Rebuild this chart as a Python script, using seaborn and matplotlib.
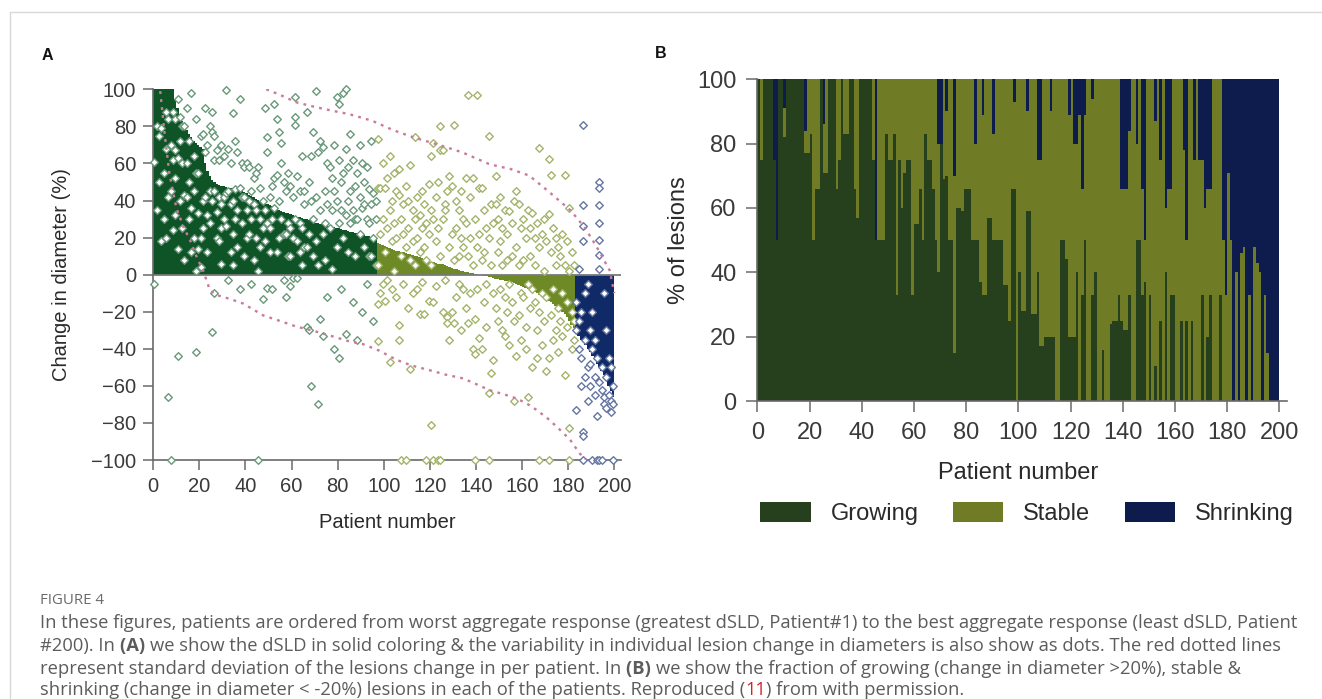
import numpy as np
import pandas as pd
import matplotlib
matplotlib.use("Agg")
import matplotlib.pyplot as plt
import seaborn as sns
from matplotlib.patches import Patch
from matplotlib.lines import Line2D

# ---------------------------------------------------------------- data
patients = list(range(1, 201))

# (A) aggregate change in sum of lesion diameters (dSLD, %) per patient
dsld = [
    100, 100, 100, 100, 100, 100, 100, 100, 100, 95,
    90, 86, 83, 80, 78, 76, 74, 72, 71, 70,
    69, 68, 60, 56, 53, 51, 50, 49, 48.5, 48,
    48, 47.5, 47, 47, 46.5, 46, 46, 45.5, 45, 44.5,
    44, 43, 42.5, 42, 41, 40.5, 40, 39, 38.5, 38,
    37.5, 37, 36, 35.5, 35, 34.5, 34, 33.5, 33, 32.5,
    32, 31.5, 31, 31, 30.5, 30, 30, 29.5, 29, 28.5,
    28, 28, 27.5, 27, 27, 26.5, 26, 26, 25.5, 25,
    25, 24.5, 24, 24, 23.5, 23, 23, 22.5, 22.5, 22,
    22, 21.5, 21, 21, 20.5, 20.5, 20, 17, 16.5, 16,
    15.5, 15, 14.5, 14, 13.5, 13, 12.5, 12, 12, 11.5,
    11, 11, 10.5, 10, 10, 9.5, 9, 8.5, 8, 7.5,
    7, 7, 6.5, 6, 6, 5.5, 5, 4.5, 4, 3.5,
    3, 3, 2.5, 2, 2, 1.5, 1.5, 1, 1, 0.5,
    0.5, 0, -0.3, -0.6, -0.9, -1.2, -1.5, -1.8, -2.1, -2.4,
    -2.7, -3, -3.3, -3.6, -3.9, -4.2, -4.6, -5, -5.5, -6,
    -6.5, -7, -7.5, -8, -9, -9.5, -10, -11, -11.5, -12,
    -13, -14, -15, -16, -17, -18, -19, -20, -21, -23,
    -25, -27, -29, -31, -33, -35, -36, -38, -40, -42,
    -44, -46, -48, -50, -52, -54, -57, -60, -63, -66,
]

# (B) fraction of lesions per patient (%)
growing_pct = [
    100, 75, 100, 100, 100, 100, 75, 50, 100, 100,
    82, 100, 100, 100, 100, 100, 100, 100, 77, 77,
    83, 50, 66, 66, 100, 71, 71, 100, 100, 100,
    66, 75, 100, 83, 83, 100, 100, 66, 57, 100,
    100, 100, 100, 100, 75, 50, 50, 50, 50, 83,
    75, 75, 83, 33, 75, 60, 71, 75, 75, 33,
    55, 55, 66, 50, 83, 75, 75, 66, 50, 40,
    80, 69, 70, 50, 50, 15, 60, 60, 59, 66,
    66, 66, 50, 50, 50, 37, 33, 33, 57, 57,
    50, 50, 50, 50, 36, 36, 25, 66, 66, 0,
    40, 28, 28, 59, 59, 27, 27, 40, 17, 17,
    20, 20, 20, 20, 0, 0, 50, 50, 44, 20,
    20, 20, 40, 0, 33, 50, 0, 0, 33, 40,
    0, 0, 16, 0, 0, 24, 25, 25, 33, 25,
    22, 22, 33, 0, 0, 50, 50, 33, 37, 0,
    33, 0, 11, 0, 25, 0, 40, 0, 33, 33,
    0, 0, 25, 0, 25, 0, 25, 0, 0, 0,
    33, 0, 20, 33, 0, 0, 0, 33, 0, 0,
    0, 0, 0, 0, 0, 0, 0, 0, 0, 0,
    0, 0, 0, 0, 0, 0, 0, 0, 0, 0,
]
stable_pct = [
    0, 25, 0, 0, 0, 0, 0, 0, 0, 0,
    9, 0, 0, 0, 0, 0, 0, 0, 7, 23,
    17, 50, 34, 34, 0, 15, 29, 0, 0, 0,
    34, 25, 0, 17, 17, 0, 0, 34, 43, 0,
    0, 0, 0, 0, 25, 0, 50, 50, 50, 17,
    25, 25, 17, 67, 25, 40, 29, 25, 25, 67,
    45, 45, 34, 50, 17, 25, 25, 34, 50, 40,
    0, 31, 20, 50, 50, 55, 40, 40, 41, 34,
    34, 34, 50, 30, 50, 63, 56, 67, 43, 43,
    33, 50, 50, 50, 64, 64, 75, 34, 27, 100,
    60, 72, 72, 31, 41, 73, 73, 35, 58, 83,
    80, 80, 70, 80, 100, 100, 50, 50, 56, 69,
    80, 60, 40, 89, 33, 39, 100, 100, 61, 60,
    100, 100, 84, 100, 100, 76, 75, 75, 67, 41,
    44, 44, 51, 100, 100, 30, 50, 33, 13, 100,
    67, 100, 76, 100, 50, 100, 20, 66, 33, 67,
    100, 100, 75, 78, 25, 100, 75, 75, 100, 75,
    42, 60, 46, 33, 100, 100, 100, 67, 50, 33,
    71, 50, 0, 40, 0, 46, 48, 0, 33, 0,
    48, 43, 40, 0, 33, 15, 0, 0, 0, 0,
]
shrinking_pct = [
    0, 0, 0, 0, 0, 0, 25, 50, 0, 0,
    9, 0, 0, 0, 0, 0, 0, 0, 16, 0,
    0, 0, 0, 0, 0, 14, 0, 0, 0, 0,
    0, 0, 0, 0, 0, 0, 0, 0, 0, 0,
    0, 0, 0, 0, 0, 50, 0, 0, 0, 0,
    0, 0, 0, 0, 0, 0, 0, 0, 0, 0,
    0, 0, 0, 0, 0, 0, 0, 0, 0, 20,
    20, 0, 10, 0, 0, 30, 0, 0, 0, 0,
    0, 0, 0, 20, 0, 0, 11, 0, 0, 0,
    17, 0, 0, 0, 0, 0, 0, 0, 7, 0,
    0, 0, 0, 10, 0, 0, 0, 25, 25, 0,
    0, 0, 10, 0, 0, 0, 0, 0, 0, 11,
    0, 20, 20, 11, 34, 11, 0, 0, 6, 0,
    0, 0, 0, 0, 0, 0, 0, 0, 0, 34,
    34, 34, 16, 0, 0, 20, 0, 34, 50, 0,
    0, 0, 13, 0, 25, 0, 40, 34, 34, 0,
    0, 0, 0, 22, 50, 0, 0, 25, 0, 25,
    25, 40, 34, 34, 0, 0, 0, 0, 50, 67,
    29, 50, 100, 60, 100, 54, 52, 100, 67, 100,
    52, 57, 60, 100, 67, 85, 100, 100, 100, 100,
]

# (A) individual lesion changes in diameter (patient, change %)
lesions = [
    (1, 61), (1, -5), (2, 80), (2, 35), (3, 75), (3, 50), (4, 79), (4, 18), (5, 55), (5, 30),
    (6, 68), (6, 20), (6, 88), (7, 84), (7, -66), (7, 42), (8, -100), (8, 45), (8, 70), (9, 88),
    (9, 24), (9, 62), (10, 84), (10, 67), (10, 52), (10, 32), (11, 63), (11, 14), (11, -44), (11, 95),
    (12, 72), (12, 40), (12, 85), (13, 60), (13, 25), (13, 80), (14, 43), (14, 80), (14, 8), (15, 42),
    (15, 90), (15, 60), (16, 72), (16, 30), (16, 50), (17, 98), (17, 36), (17, 12), (18, 64), (18, 20),
    (18, 45), (19, 84), (19, -42), (19, 2), (19, 55), (20, 14), (20, 55), (20, 33), (21, 20), (21, 4),
    (21, 75), (22, 76), (22, 40), (22, 25), (23, 66), (23, 42), (23, 90), (24, 32), (24, 70), (24, 12),
    (25, 80), (25, 28), (25, 45), (26, 88), (26, 77), (26, -31), (26, 40), (27, 75), (27, 45), (27, -10),
    (27, 62), (28, 67), (28, 34), (28, 20), (29, 62), (29, 18), (29, 42), (30, 70), (30, 38), (30, 6),
    (30, 25), (31, 64), (31, 42), (31, 30), (32, 99.7), (32, 26), (32, 44), (33, 68), (33, 45), (33, -3),
    (34, 60), (34, 12), (34, 38), (35, 87), (35, 40), (35, 5), (35, 22), (36, 72), (36, 30), (36, 46),
    (37, 66), (37, 15), (37, 35), (38, 95), (38, 47), (38, -8), (39, 60), (39, 28), (39, 42), (40, 42),
    (40, 10), (40, 58), (41, 60), (41, 35), (41, 20), (42, 58), (42, 22), (42, 40), (43, 45), (43, -5),
    (43, 30), (44, 38), (44, 8), (44, 52), (45, 55), (45, 20), (45, 35), (46, 58), (46, -100), (46, 2),
    (47, 47), (47, 30), (47, 15), (48, 40), (48, -13), (48, 25), (49, 90), (49, 18), (49, 35), (50, 74),
    (50, 66), (50, -7), (50, 28), (51, 42), (51, 25), (51, 12), (52, 48), (52, -8), (52, 30), (53, 92),
    (53, 52), (53, 36), (54, 84), (54, 54), (54, 12), (55, 77), (55, 40), (55, 20), (56, 71), (56, 30),
    (56, 60), (57, 50), (57, -3), (57, 22), (58, 45), (58, 22), (58, -12), (59, 55), (59, 28), (59, 10),
    (60, 48), (60, 10), (60, -6), (60, 25), (61, 42), (61, 20), (61, -2), (62, 96), (62, 85), (62, 81),
    (62, 30), (63, 53), (63, 18), (63, -2), (64, 45), (64, 12), (64, 28), (65, 64), (65, 25), (65, 5),
    (66, 38), (66, 45), (66, 15), (67, 87.6), (67, 15), (67, -28), (68, 50), (68, 22), (68, -30), (69, 64),
    (69, 40), (69, -60), (70, 77), (70, 30), (70, 10), (71, 99), (71, 42), (71, 18), (72, 66), (72, 5),
    (72, -70), (73, 72), (73, 35), (73, -24), (74, 69), (74, 22), (74, -33), (75, 45), (75, 28), (75, 8),
    (76, 60), (76, 38), (76, -12), (77, 58), (77, 25), (78, 52), (78, 35), (78, 3), (79, 70), (79, 45),
    (79, -40), (80, 96), (80, 40), (80, 15), (81, 92), (81, 62), (81, 28), (81, -45), (82, 50), (82, 35),
    (82, -8), (83, 98), (83, 55), (83, 20), (84, 100), (84, 68), (84, 32), (84, -32), (85, 58), (85, 40),
    (85, 12), (86, 76), (86, 45), (86, 28), (87, 62), (87, 35), (87, -15), (88, 48), (88, 10), (88, 30),
    (89, 55), (89, 30), (89, -35), (90, 70), (90, 42), (90, 22), (91, 36), (91, 60), (91, -20), (92, 50),
    (92, 15), (92, 38), (93, 58), (93, 30), (93, -5), (94, 46), (94, 28), (94, 10), (95, 72), (95, 38),
    (95, 10), (96, 44), (96, 20), (96, -25), (97, 40), (97, 30), (97, 5),
    (98, 73), (98, 47), (98, -16), (98, -36), (98, 5), (99, 47), (99, 22), (99, -10), (100, 60), (100, 30),
    (100, -5), (101, 47), (101, -14), (101, 12), (102, 52), (102, 25), (102, -3), (103, 64), (103, -47), (103, 35),
    (104, 40), (104, 18), (104, -8), (105, 55), (105, 28), (105, 2), (106, 45), (106, 20), (106, -12), (107, 57),
    (107, 43), (107, -27), (107, -35), (108, -100), (108, 30), (108, 10), (109, 38), (109, 22), (109, -5), (110, -100),
    (110, 48), (110, 15), (111, 40), (111, 25), (111, -18), (112, 59), (112, -51), (112, 8), (113, 35), (113, 18),
    (113, -10), (114, 74), (114, 30), (114, 5), (115, 42), (115, 20), (115, -8), (116, -21), (116, 32), (116, 12),
    (117, 45), (117, 25), (117, -4), (118, -21), (118, 38), (118, 15), (119, -100), (119, 28), (119, 8), (120, 49),
    (120, -14), (120, 22), (121, 64), (121, -81), (121, 35), (121, 5), (122, 71), (122, -100), (122, -15), (122, 30),
    (123, 42), (123, 18), (123, -6), (124, -100), (124, 50), (124, 25), (125, 80), (125, -100), (125, 67), (125, 10),
    (126, 67), (126, 30), (126, -20), (127, 38), (127, 35), (127, -3), (128, -23), (128, -26), (128, 45), (129, 53),
    (129, -35), (129, 15), (130, 48), (130, -20), (130, 22), (131, 81), (131, -26), (131, 8), (132, 40), (132, 25),
    (132, -12), (133, 35), (133, 10), (133, -5), (134, 45), (134, 20), (134, -30), (135, 30), (135, -8), (135, 15),
    (136, 52), (136, 28), (136, -18), (137, 97), (137, -26), (137, 10), (138, 42), (138, 20), (138, -10), (139, 52),
    (139, -40), (139, 5), (140, -100), (140, -24), (140, -43), (140, 30), (141, 97), (141, 15), (141, -8), (142, 47),
    (142, -34), (142, 22), (143, 47), (143, -40), (143, 8), (144, 35), (144, -15), (144, 12), (145, 25), (145, -5),
    (145, -28), (146, 75), (146, -100), (146, -64), (146, 20), (147, -53), (147, 38), (147, 5), (148, -46), (148, 28),
    (148, -10), (149, 53), (149, 38), (149, -18), (150, 30), (150, 12), (150, -25), (151, 42), (151, -8), (151, 18),
    (152, 25), (152, -30), (152, 5), (153, -33), (153, 35), (153, -12), (154, 22), (154, -20), (154, 8), (155, 34.6),
    (155, -38), (155, -5), (156, 28), (156, -15), (156, 10), (157, -68), (157, 40), (157, -25), (158, 45), (158, -44),
    (158, 15), (159, 38), (159, -22), (159, 5), (160, 25), (160, -35), (160, -10), (161, 30), (161, -12), (161, 8),
    (162, 20), (162, -28), (162, -40), (163, -66), (163, 35), (163, -5), (164, 25), (164, -18), (164, 10), (165, 33.5),
    (165, -50), (165, -8), (166, 20), (166, -15), (166, 5), (167, 28), (167, -30), (167, -45), (168, 68.5), (168, -100),
    (168, 15), (168, -20), (169, 22), (169, -10), (169, -38), (170, 30), (170, -25), (170, 2), (171, -52), (171, 18),
    (171, -12), (172, 62.6), (172, 32.6), (172, -100), (172, -45), (173, 53.6), (173, 12), (173, -22), (174, 25), (174, -8),
    (174, -35), (175, 20), (175, -30), (175, 5), (176, 15), (176, -18), (176, -42), (177, 10), (177, -25), (178, 22),
    (178, -10), (178, -33), (179, 53.6), (179, -54), (179, 5), (180, 18), (180, -28), (180, -15), (181, 36), (181, -83),
    (181, -100), (181, 2), (182, 12), (182, -20), (182, -40), (183, 5), (183, -25), (183, -35),
    (184, -73), (184, -15), (184, -30), (185, -25), (185, -40), (185, 3), (186, -20), (186, -45), (186, -60), (187, 81),
    (187, 37.6), (187, 26), (187, 18), (187, -100), (187, -85), (187, -87), (188, -10), (188, -35), (188, -55), (189, -5),
    (189, -50), (189, -68), (190, -30), (190, -48), (190, -60), (191, -100), (191, -40), (191, -20), (192, -55), (192, -65),
    (192, -35), (193, -100), (193, -76), (193, -45), (194, 50), (194, 46.5), (194, 37.5), (194, 27.6), (194, 18.6), (194, 10.5),
    (194, 3), (194, -100), (194, -58), (195, -100), (195, -62), (195, -50), (196, -10), (196, -66), (196, -70), (197, -30),
    (197, -55), (197, -72), (198, -45), (198, -65), (199, -68), (199, -74), (199, -50), (200, -100), (200, -70), (200, -60),
]

# (A) standard-deviation envelope (red dotted lines)
sd_upper_x = [49, 55, 62, 70, 77, 85, 95, 104, 113, 124, 134, 146, 155, 163, 171, 181, 187, 192, 198, 200]
sd_upper_y = [100, 97, 93, 90.5, 88.6, 86.6, 83, 78, 74, 70, 66, 59.5, 57, 53.5, 45.4, 34.7, 25.7, 15.8, 2.3, -10]
sd_lower_x = [3, 5, 7, 10, 13, 16, 19, 21.6, 24.6, 27.5, 33, 39, 47.7, 55, 62, 70, 77, 85, 91, 98,
              105.6, 112, 120, 127, 134.5, 140, 146, 152, 157.6, 162, 166.3, 171, 175, 180.8, 185, 188]
sd_lower_y = [99, 75, 54.5, 36, 26, 18.5, 9, 2.3, -8.5, -11, -13, -15.6, -22, -25, -28, -30.5, -33, -36, -37.5, -41,
              -46, -49, -51.6, -54, -56, -59, -62.4, -64.5, -66.8, -69.5, -73, -77.5, -82, -89, -96.5, -100]

categories = ["Growing", "Stable", "Shrinking"]
x_ticks = list(range(0, 201, 20))
y_ticks_a = list(range(-100, 101, 20))
y_ticks_b = list(range(0, 101, 20))

caption_title = "FIGURE 4"
caption_lines = [
    [("In these figures, patients are ordered from worst aggregate response (greatest dSLD, Patient#1) to the best aggregate response (least dSLD, Patient", "n")],
    [("#200). In ", "n"), ("(A) ", "b"), ("we show the dSLD in solid coloring & the variability in individual lesion change in diameters is also show as dots. The red dotted lines", "n")],
    [("represent standard deviation of the lesions change in per patient. In ", "n"), ("(B) ", "b"), ("we show the fraction of growing (change in diameter >20%), stable &", "n")],
    [("shrinking (change in diameter < -20%) lesions in each of the patients. Reproduced (", "n"), ("11", "r"), (") from with permission.", "n")],
]

# ---------------------------------------------------------------- style
sns.set_style("ticks")
plt.rcParams["font.family"] = ["Liberation Sans", "DejaVu Sans"]
plt.rcParams["axes.unicode_minus"] = True

W, H = 1322, 699
fig = plt.figure(figsize=(W / 100, H / 100), dpi=100)
fig.patch.set_facecolor("white")

bar_a = {"Growing": "#0f5427", "Stable": "#6d8a26", "Shrinking": "#0f2a66"}
dot_a = {"Growing": "#6a987a", "Stable": "#a4b46c", "Shrinking": "#6676a4"}
bar_b = {"Growing": "#263f1d", "Stable": "#6f7b25", "Shrinking": "#0d1c4d"}
spine_c = "#6a6a6a"
tick_c = "#3a3a3a"


def px_axes(left, right, top, bottom):
    return [left / W, (H - bottom) / H, (right - left) / W, (bottom - top) / H]


def response(v):
    if v >= 20:
        return "Growing"
    if v <= -30:
        return "Shrinking"
    return "Stable"


# ---------------------------------------------------------------- panel A
axA = fig.add_axes(px_axes(153.3, 621.2, 89.3, 460))
dfA = pd.DataFrame({"x": np.array(patients) - 0.5, "dsld": dsld})
dfA["resp"] = [response(v) for v in dsld]
sns.histplot(data=dfA, x="x", weights="dsld", hue="resp", hue_order=categories,
             palette=bar_a, binwidth=1, binrange=(0, 200), multiple="layer", element="bars",
             fill=True, alpha=1, linewidth=0, antialiased=False, legend=False, ax=axA)
axA.axhline(0, color="#7a7a7a", lw=1.3, zorder=2.5)

les = pd.DataFrame(lesions, columns=["patient", "change"])
les["x"] = les["patient"] - 0.5
resp_map = dict(zip(patients, dfA["resp"]))
les["resp"] = les["patient"].map(resp_map)
for cat in categories:
    sub = les[les["resp"] == cat]
    sns.scatterplot(data=sub, x="x", y="change", marker="D", s=15, color="white",
                    edgecolor=dot_a[cat], linewidth=1.0, clip_on=False, zorder=3,
                    legend=False, ax=axA)

for xs, ys in [(sd_upper_x, sd_upper_y), (sd_lower_x, sd_lower_y)]:
    sns.lineplot(x=xs, y=ys, color="#c97b9b", lw=1.7, linestyle=(0, (1.2, 2.2)),
                 zorder=4, ax=axA)

axA.set_xlim(0, 203)
axA.set_ylim(-100, 100)
axA.set_xticks(x_ticks)
axA.set_yticks(y_ticks_a)
axA.set_xlabel("Patient number", fontsize=14.5, color="#2a2a2a")
axA.set_ylabel("Change in diameter (%)", fontsize=14.5, color="#2a2a2a")
axA.xaxis.set_label_coords(0.5, (460 - 523) / 370.7)
axA.xaxis.label.set_va("center")
axA.yaxis.set_label_coords((62 - 153.3) / 467.9, 0.5)
axA.yaxis.label.set_va("center")
axA.tick_params(axis="both", length=7.2, width=1.1, color=spine_c, labelsize=14.5,
                labelcolor=tick_c, pad=5)
sns.despine(ax=axA)
for s in ("left", "bottom"):
    axA.spines[s].set_color(spine_c)
    axA.spines[s].set_linewidth(1.2)
axA.set_facecolor("white")

# ---------------------------------------------------------------- panel B
axB = fig.add_axes(px_axes(757.3, 1286.7, 79.3, 401))
rows = []
for cat, vals in zip(categories, [growing_pct, stable_pct, shrinking_pct]):
    for p, v in zip(patients, vals):
        rows.append((p - 0.5, v, cat))
dfB = pd.DataFrame(rows, columns=["x", "pct", "resp"])
sns.histplot(data=dfB, x="x", weights="pct", hue="resp",
             hue_order=["Shrinking", "Stable", "Growing"], palette=bar_b,
             binwidth=1, binrange=(0, 200), multiple="stack", element="bars",
             fill=True, alpha=1, linewidth=0, antialiased=False, legend=False, ax=axB)

axB.set_xlim(0, 202.8)
axB.set_ylim(0, 100)
axB.set_xticks(x_ticks)
axB.set_yticks(y_ticks_b)
axB.set_xlabel("Patient number", fontsize=17, color="#2a2a2a")
axB.set_ylabel("% of lesions", fontsize=17, color="#2a2a2a")
axB.xaxis.set_label_coords((1018.3 - 757.3) / 529.4, (401 - 473) / 321.7)
axB.xaxis.label.set_va("center")
axB.yaxis.set_label_coords((679 - 757.3) / 529.4, 0.5)
axB.yaxis.label.set_va("center")
axB.tick_params(axis="both", length=8, width=1.1, color=spine_c, labelsize=17,
                labelcolor=tick_c, pad=7)
sns.despine(ax=axB)
for s in ("left", "bottom"):
    axB.spines[s].set_color(spine_c)
    axB.spines[s].set_linewidth(1.2)

handles = [Patch(facecolor=bar_b[c], edgecolor="none", label=c) for c in categories]
axB.legend(handles=handles, loc="center", bbox_to_anchor=((1027 - 757.3) / 529.4, (401 - 513.6) / 321.7),
           ncol=3, frameon=False, fontsize=17, handlelength=2.15, handleheight=0.94,
           handletextpad=0.84, columnspacing=1.45, labelcolor="#2a2a2a",
           borderpad=0, borderaxespad=0)

# ---------------------------------------------------------------- labels & caption
fig.text(47.5 / W, 1 - 56 / H, "A", fontsize=11.5, fontweight="bold", ha="center", va="center", color="#111")
fig.text(661 / W, 1 - 54 / H, "B", fontsize=11.5, fontweight="bold", ha="center", va="center", color="#111")

fig.add_artist(Line2D([10 / W, 1], [1 - 12 / H, 1 - 12 / H], color="#d8d8d8", lw=1))
fig.add_artist(Line2D([10 / W, 10 / W], [0, 1 - 12 / H], color="#d8d8d8", lw=1))

renderer = fig.canvas.get_renderer()
cap_family = ["Open Sans", "DejaVu Sans"]
cap_color = "#5c5c5c"


def text_width(s, size, weight):
    t = fig.text(0, 0, s + "x", fontsize=size, fontweight=weight, family=cap_family)
    w1 = t.get_window_extent(renderer).width
    t.remove()
    t = fig.text(0, 0, "x", fontsize=size, fontweight=weight, family=cap_family)
    w2 = t.get_window_extent(renderer).width
    t.remove()
    return w1 - w2


base = 12.0
w_line1 = text_width(caption_lines[0][0][0], base, "normal")
cap_size = base * (1291 - 40) / w_line1

fig.text(40 / W, 1 - 600 / H, caption_title, fontsize=cap_size * 0.82, color="#6a6a6a",
         family=cap_family, va="center", ha="left")
line_y = [623, 646, 669, 690]
for runs, yy in zip(caption_lines, line_y):
    x = 40.0
    for s, kind in runs:
        weight = "bold" if kind == "b" else "normal"
        color = "#d0202a" if kind == "r" else cap_color
        fig.text(x / W, 1 - yy / H, s, fontsize=cap_size, fontweight=weight, color=color,
                 family=cap_family, va="center", ha="left")
        x += text_width(s, cap_size, weight)

fig.savefig("out.png", dpi=100, facecolor="white")
